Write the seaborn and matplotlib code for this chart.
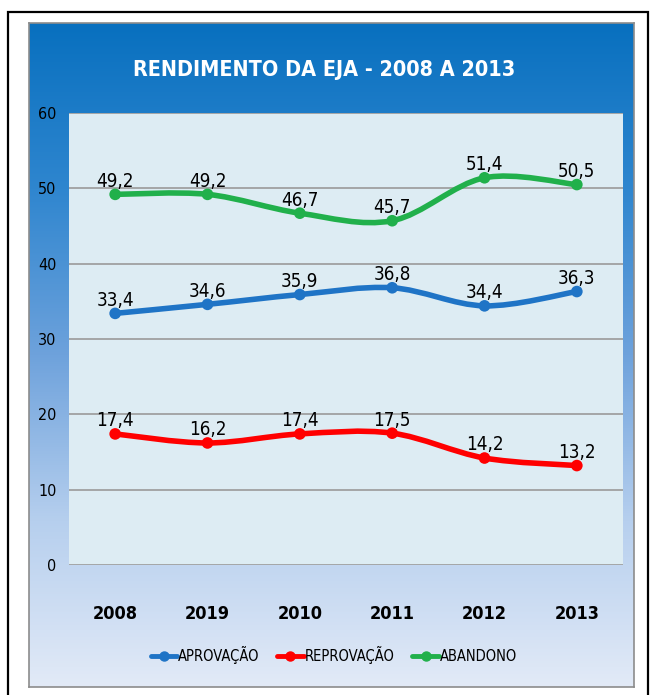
import numpy as np
import pandas as pd
import matplotlib
matplotlib.use("Agg")
import matplotlib.pyplot as plt
from matplotlib.colors import LinearSegmentedColormap
from matplotlib.patches import Rectangle, PathPatch
from matplotlib.path import Path
from matplotlib.lines import Line2D
import seaborn as sns

# DATA
anos = ["2008", "2019", "2010", "2011", "2012", "2013"]
aprovacao = [33.4, 34.6, 35.9, 36.8, 34.4, 36.3]
reprovacao = [17.4, 16.2, 17.4, 17.5, 14.2, 13.2]
abandono = [49.2, 49.2, 46.7, 45.7, 51.4, 50.5]
series_names = ["APROVAÇÃO", "REPROVAÇÃO", "ABANDONO"]
cores = ["#1f74c6", "#ff0000", "#21b04b"]

sns.set_style("white")
plt.rcParams["font.family"] = ["DejaVu Sans"]
plt.rcParams["font.stretch"] = "condensed"
plt.rcParams["text.color"] = "black"
plt.rcParams["xtick.color"] = "black"
plt.rcParams["ytick.color"] = "black"

df = pd.DataFrame({
    "ano": list(range(len(anos))) * 3,
    "valor": aprovacao + reprovacao + abandono,
    "serie": np.repeat(series_names, len(anos)),
})

fig = plt.figure(figsize=(6.53, 6.95), dpi=100)
fig.patch.set_facecolor("white")

# outer black frame
fig.patches.append(Rectangle((8/653, -0.02), 640/653, (695-12)/695 + 0.02,
                             transform=fig.transFigure, fill=False,
                             edgecolor="black", linewidth=1.6, zorder=0))

# gradient background panel
bg = fig.add_axes([29/653, 1-687/695, 605/653, 664/695])
grad = LinearSegmentedColormap.from_list(
    "g", [(0, "#0870bf"), (0.25, "#2f86cf"), (0.5, "#6ea2dc"),
          (0.75, "#b6cfee"), (1, "#e2eaf7")])
bg.imshow(np.linspace(0, 1, 256).reshape(-1, 1), aspect="auto", cmap=grad,
          extent=[0, 1, 0, 1])
bg.set_xticks([])
bg.set_yticks([])
for s in bg.spines.values():
    s.set_color("#8c8c8c")
    s.set_linewidth(1.2)

fig.text(324/653, 1-70/695, "RENDIMENTO DA EJA - 2008 A 2013", color="white",
         fontsize=15.5, fontweight="bold", ha="center", va="center")

# plot area
ax = fig.add_axes([69/653, 1-565/695, 554/653, 452/695])
ax.set_facecolor("#ddecf3")


def smooth_path(xs, ys):
    pts = np.column_stack([xs, ys])
    ext = np.vstack([pts[0], pts, pts[-1]])
    verts = [pts[0]]
    codes = [Path.MOVETO]
    for i in range(len(pts) - 1):
        p0, p1, p2, p3 = ext[i], ext[i+1], ext[i+2], ext[i+3]
        c1 = p1 + (p2 - p0) / 6
        c2 = p2 - (p3 - p1) / 6
        verts += [c1, c2, p2]
        codes += [Path.CURVE4] * 3
    return Path(verts, codes)


valores = [aprovacao, reprovacao, abandono]
for vals, cor in zip(valores, cores):
    ax.add_patch(PathPatch(smooth_path(np.arange(len(anos)), vals),
                           facecolor="none", edgecolor=cor, linewidth=4,
                           capstyle="round", zorder=3))

sns.scatterplot(data=df, x="ano", y="valor", hue="serie", palette=cores,
                s=70, edgecolor="none", legend=False, zorder=4, ax=ax)

for vals in valores:
    for i, v in enumerate(vals):
        ax.annotate(f"{v:.1f}".replace(".", ","), (i, v), xytext=(0, 5.5),
                    textcoords="offset points", ha="center", va="baseline",
                    fontsize=13.5, color="black", zorder=5)

ax.set_xlim(-0.5, len(anos) - 0.5)
ax.set_ylim(0, 60)
ax.set_yticks(range(0, 61, 10))
ax.set_xticks(range(len(anos)))
ax.set_xticklabels(anos, fontsize=13, fontweight="bold")
ax.tick_params(axis="y", labelsize=11.5, length=0, pad=9)
ax.tick_params(axis="x", length=0, pad=29)
ax.set_xlabel("")
ax.set_ylabel("")
ax.grid(axis="y", color="#9a9a9a", linewidth=1.2)
ax.set_axisbelow(True)
for s in ax.spines.values():
    s.set_visible(False)

handles = [Line2D([0], [0], color=c, lw=3.5, marker="o", markersize=6.5)
           for c in cores]
fig.legend(handles, series_names, loc="center", ncol=3, frameon=False,
           bbox_to_anchor=(334/653, 1-655/695), fontsize=10.5,
           handlelength=1.8, handletextpad=0.1, columnspacing=1.2)

fig.savefig("out.png", dpi=100)
